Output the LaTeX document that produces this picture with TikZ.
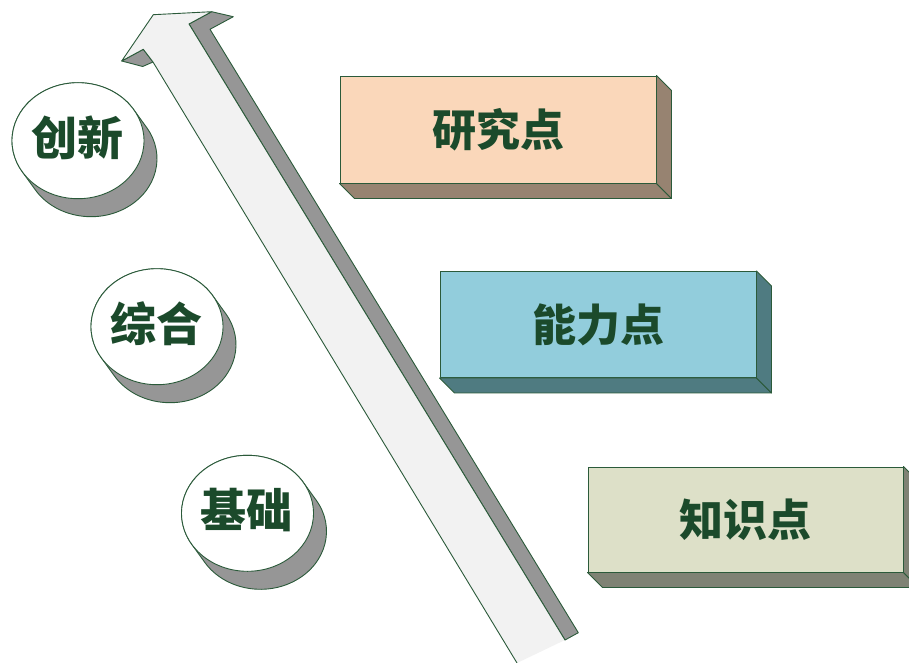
\documentclass[tikz,border=0pt]{standalone}
\usepackage{fontspec}
\newfontfamily\cjk{Noto Sans CJK SC}
\usetikzlibrary{shapes.geometric}
\definecolor{lineg}{HTML}{2B5A3A}
\definecolor{textg}{HTML}{1B4A2B}
\definecolor{sidegray}{HTML}{969696}
\definecolor{frontgray}{HTML}{F2F2F2}
\definecolor{peach}{HTML}{FAD7BA}
\definecolor{peachside}{HTML}{978371}
\definecolor{cyanf}{HTML}{92CDDC}
\definecolor{cyans}{HTML}{4F7B81}
\definecolor{olivef}{HTML}{DDE0C8}
\definecolor{olives}{HTML}{7F8274}
\tikzset{
  edge/.style={draw=lineg, line width=0.9pt, line join=round},
  lbl/.style={text=textg, font=\cjk\bfseries\fontsize{44}{44}\selectfont},
  disc/.style={ellipse, edge, fill=white, minimum width=132pt, minimum height=116pt, inner sep=0pt, text=textg, font=\cjk\bfseries\fontsize{46}{46}\selectfont},
  cylside/.style={edge, fill=sidegray},
  slab/.style={rectangle, edge, inner sep=0pt, lbl}
}
\begin{document}
\begin{tikzpicture}[x=1pt,y=-1pt]
\useasboundingbox (0,0) rectangle (909,663);
% arrow
\filldraw[edge, fill=sidegray] (121.7,61) -- (143.3,49.3) -- (153,62) -- (142.7,66.5) -- cycle;
\filldraw[edge, fill=sidegray] (189,24) -- (211.7,11.7) -- (233.3,16.7) -- (210,29.3) -- (578.3,632.7) -- (565,640) -- cycle;
\fill[frontgray] (517,663) -- (153,62) -- (143.3,49.3) -- (121.7,61) -- (153.3,14.7) -- (211.7,11.7) -- (189,24) -- (565,640) -- cycle;
\draw[edge] (517,663) -- (153,62) -- (143.3,49.3) -- (121.7,61) -- (153.3,14.7) -- (211.7,11.7) -- (189,24) -- (565,640);
% circles
\foreach \n/\cx/\cy/\t in {cA/78/140.7/创新,cB/157/326.7/综合,cC/247.5/513.3/基础}{
  \filldraw[cylside] (\cx,\cy) ++(32.4:66pt and 58pt) -- ++(13pt,-18pt)
     arc[start angle=32.4, end angle=-147.6, x radius=66pt, y radius=58pt]
     -- ++(-13pt,18pt)
     arc[start angle=212.4, end angle=32.4, x radius=66pt, y radius=58pt] -- cycle;
  \node[disc] (\n) at (\cx,\cy) {};
  \node[text=textg, font=\cjk\bfseries\fontsize{46}{46}\selectfont, inner sep=0pt] (\n t) at ([shift={(-1pt,3pt)}]\n.center) {\t};
}
% boxes
\foreach \n/\cx/\cy/\w/\h/\f/\s/\t in {bA/498/129.5/316/107/peach/peachside/研究点,
                                         bB/598/324.5/316/106/cyanf/cyans/能力点,
                                         bC/745.5/519.5/315/105/olivef/olives/知识点}{
  \node[slab, fill=\f, minimum width=\w pt, minimum height=\h pt] (\n) at (\cx,\cy) {\t};
  \filldraw[edge, fill=\s] (\n.south west) -- ([shift={(15pt,-15pt)}]\n.south west) -- ([shift={(15pt,-15pt)}]\n.south east) -- (\n.south east) -- cycle;
  \filldraw[edge, fill=\s] (\n.south east) -- ([shift={(15pt,-15pt)}]\n.south east) -- ([shift={(15pt,-15pt)}]\n.north east) -- (\n.north east) -- cycle;
}
\end{tikzpicture}
\end{document}
